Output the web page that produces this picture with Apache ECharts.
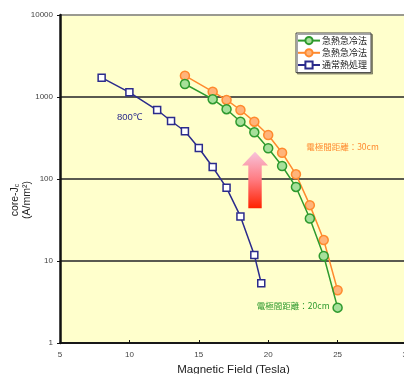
<!DOCTYPE html>
<html><head><meta charset="utf-8">
<script src="https://cdn.jsdelivr.net/npm/echarts@6/dist/echarts.min.js"></script>
<style>html,body{margin:0;padding:0;background:#fff}#c{width:404px;height:374px}</style>
</head><body><div id="c"></div>
<script>
const seriesNames = ['急熱急冷法', '急熱急冷法', '通常熱処理'];
const xGreen = [14, 16, 17, 18, 19, 20, 21, 22, 23, 24, 25];
const yGreen = [1440, 940, 710, 500, 371, 237, 144, 80, 33, 11.5, 2.7];
const xOrange = [14, 16, 17, 18, 19, 20, 21, 22, 23, 24, 25];
const yOrange = [1820, 1160, 920, 694, 500, 344, 209, 114, 48, 18, 4.4];
const xNavy = [8, 10, 12, 13, 14, 15, 16, 17, 18, 19, 19.5];
const yNavy = [1720, 1140, 694, 510, 382, 239, 140, 78, 35, 11.8, 5.35];
const yTicks = [1, 10, 100, 1000, 10000];
const xTicks = [5, 10, 15, 20, 25, 30];

const FONT = 'Liberation Sans, Arial, sans-serif';
const CJK = 'Noto Sans CJK JP';
const zip = (xs, ys) => xs.map((x, i) => [x, ys[i]]);

const chart = echarts.init(document.getElementById('c'), null, {renderer: 'canvas'});
chart.setOption({
  animation: false,
  backgroundColor: '#ffffff',
  grid: {left: 60, top: 15, width: 347, bottom: 31, show: true, backgroundColor: '#FFFFCC', borderWidth: 0,
         containLabel: false, outerBoundsMode: 'none'},
  legend: {
    orient: 'vertical', left: 296, top: 33,
    backgroundColor: '#ffffff', borderColor: '#444', borderWidth: 1,
    shadowColor: 'rgba(0,0,0,0.35)', shadowOffsetX: 1.5, shadowOffsetY: 1.5, shadowBlur: 0,
    padding: [3, 4, 3, 1], itemWidth: 22, itemHeight: 9, itemGap: 3,
    textStyle: {fontSize: 9, fontFamily: CJK, color: '#222', padding: [0, 0, 0, -3]},
    formatter: n => n.trim(),
    data: [
      {name: seriesNames[0]},
      {name: seriesNames[1] + ' '},
      {name: seriesNames[2]}
    ]
  },
  xAxis: {
    type: 'value', min: xTicks[0], max: xTicks[xTicks.length - 1], interval: 5,
    name: 'Magnetic Field (Tesla)', nameLocation: 'middle', nameGap: 20,
    nameTextStyle: {fontSize: 11.5, fontFamily: FONT, color: '#222'},
    axisLine: {lineStyle: {color: '#111', width: 1.5}},
    axisTick: {inside: true, length: 3, lineStyle: {color: '#111'}},
    axisLabel: {fontSize: 8, fontFamily: FONT, color: '#444', margin: 8},
    splitLine: {show: false}
  },
  yAxis: {
    type: 'log', logBase: 10, min: yTicks[0], max: yTicks[yTicks.length - 1],
    axisLine: {show: true, lineStyle: {color: '#111', width: 2.5}},
    axisTick: {show: true, length: 3, lineStyle: {color: '#111'}},
    axisLabel: {fontSize: 8, fontFamily: FONT, color: '#444', margin: 7, formatter: v => String(Math.round(v))},
    splitLine: {show: true, lineStyle: {color: ['#333', '#5a5a50', '#5a5a50', '#5a5a50', '#9a9a90'], width: 2}}
  },
  series: [
    {
      name: seriesNames[0], type: 'line', data: zip(xGreen, yGreen),
      symbol: 'circle', symbolSize: 9,
      lineStyle: {color: '#2E9A2E', width: 1.5},
      itemStyle: {color: '#A6E09A', borderColor: '#2E9A2E', borderWidth: 1.5},
      z: 3
    },
    {
      name: seriesNames[1] + ' ', type: 'line', data: zip(xOrange, yOrange),
      symbol: 'circle', symbolSize: 9,
      lineStyle: {color: '#FF8A2E', width: 1.5},
      itemStyle: {color: '#FFB47A', borderColor: '#FF8A2E', borderWidth: 1.5},
      z: 2
    },
    {
      name: seriesNames[2], type: 'line', data: zip(xNavy, yNavy),
      symbol: 'rect', symbolSize: 7,
      lineStyle: {color: '#2B2B8C', width: 1.5},
      itemStyle: {color: '#ffffff', borderColor: '#2B2B8C', borderWidth: 1.5},
      z: 4
    }
  ]
});

// annotations placed via data coordinates
const P = (x, y) => chart.convertToPixel({gridIndex: 0}, [x, y]);
const aTop = P(19.05, 215), aHead = P(19.05, 146), aBot = P(19.05, 44);
const halfHead = 13, halfShaft = 6.7;
const cx = aTop[0];
const t800 = P(10, 560), t30 = P(25.35, 245), t20 = P(21.8, 2.85);
chart.setOption({
  graphic: [
    {
      type: 'polygon', z: 10,
      shape: {points: [
        [cx, aTop[1]], [cx + halfHead, aHead[1]], [cx + halfShaft, aHead[1]], [cx + halfShaft, aBot[1]],
        [cx - halfShaft, aBot[1]], [cx - halfShaft, aHead[1]], [cx - halfHead, aHead[1]]
      ]},
      style: {fill: new echarts.graphic.LinearGradient(0, 0, 0, 1, [
        {offset: 0, color: '#F7C4DC'}, {offset: 0.5, color: '#FF7A80'}, {offset: 1, color: '#FF2200'}
      ])}
    },
    {type: 'text', z: 10, x: t800[0], y: t800[1],
     style: {text: '800℃', fontSize: 9.5, fontFamily: FONT, fill: '#2B2B8C', align: 'center', verticalAlign: 'middle'}},
    {type: 'text', z: 10, x: t30[0], y: t30[1],
     style: {text: '電極間距離：30cm', fontSize: 8.5, fontFamily: CJK, fill: '#FF8A2E', align: 'center', verticalAlign: 'middle'}},
    {type: 'text', z: 10, x: t20[0], y: t20[1],
     style: {text: '電極間距離：20cm', fontSize: 8.5, fontFamily: CJK, fill: '#2E9A2E', align: 'center', verticalAlign: 'middle'}},
    {type: 'text', z: 10, x: 21, y: 200, rotation: Math.PI / 2,
     style: {
       text: '{a|core-J}{s|c}\n{a|(A/mm²)}',
       align: 'center', verticalAlign: 'middle',
       rich: {
         a: {fontSize: 10.5, fontFamily: FONT, fill: '#222', lineHeight: 12},
         s: {fontSize: 7, fontFamily: FONT, fill: '#222', verticalAlign: 'bottom', lineHeight: 12, padding: [4, 0, 0, 0]}
       }
     }}
  ]
});
</script></body></html>
